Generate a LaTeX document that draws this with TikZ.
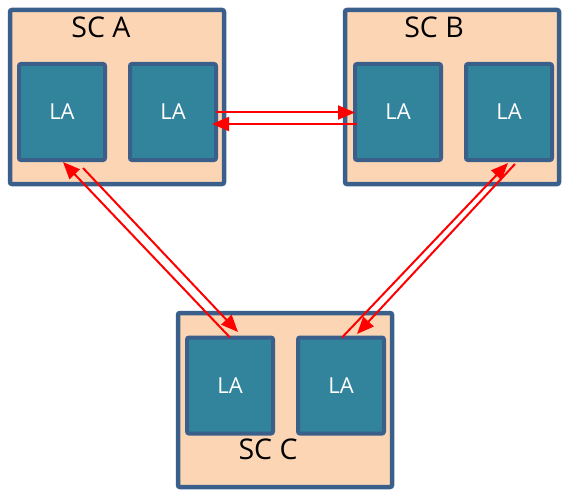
\documentclass[tikz,border=0pt]{standalone}
\usepackage{fontspec}
\setmainfont{Open Sans}
\usetikzlibrary{arrows.meta,calc}
\definecolor{peach}{HTML}{FCD5B5}
\definecolor{navy}{HTML}{3A5F8B}
\definecolor{teal2}{HTML}{31849B}
\definecolor{arrred}{HTML}{FF0000}
\tikzset{
  scbox/.style={draw=navy,fill=peach,line width=4.5pt,rounded corners=2pt,minimum width=214pt,minimum height=174pt,outer sep=0pt,inner sep=0pt},
  labox/.style={draw=navy,fill=teal2,line width=4pt,rounded corners=2pt,minimum width=86pt,minimum height=96pt,outer sep=0pt,inner sep=0pt,text=white,font=\fontsize{22pt}{26pt}\selectfont},
  sclabel/.style={font=\fontsize{28.5pt}{34pt}\selectfont,inner sep=0pt,text=black},
  link/.style={draw=arrred,line width=2pt,-{Triangle[length=17pt,width=14pt]}}
}
\begin{document}
\begin{tikzpicture}[x=1pt,y=1pt]
\useasboundingbox (0,0) rectangle (562,491);
\node[scbox] (scA) at (117,394) {};
\node[scbox] (scB) at (452,394) {};
\node[scbox] (scC) at (285,91) {};
\node[sclabel] (tA) at (101,464) {SC A};
\node[sclabel] (tB) at (434,464) {SC B};
\node[sclabel] (tC) at (268,42) {SC C};
\node[labox] (A1) at (62,379) {LA};
\node[labox] (A2) at (173,379) {LA};
\node[labox] (B1) at (398,379) {LA};
\node[labox] (B2) at (509,379) {LA};
\node[labox] (C1) at (230,105.5) {LA};
\node[labox] (C2) at (341,105.5) {LA};
% A <-> B
\draw[link] ($(A2.east)+(0,-0.5)$) -- ($(B1.west)+(0,-0.5)$);
\draw[link] ($(B1.west)+(2,-12)$) -- ($(A2.east)+(-4,-12)$);
% A <-> C
\draw[link] (C1.north) -- ($(A1.south)+(1,-2)$);
\draw[link] ($(A1.south)+(21,-8)$) -- ($(C1.north)+(8,5.5)$);
% B <-> C
\draw[link] ($(C2.north)+(1,0)$) -- ($(B2.south)+(-1,-3)$);
\draw[link] ($(B2.south)+(6,-4)$) -- ($(C2.north)+(16,3.5)$);
\end{tikzpicture}
\end{document}
